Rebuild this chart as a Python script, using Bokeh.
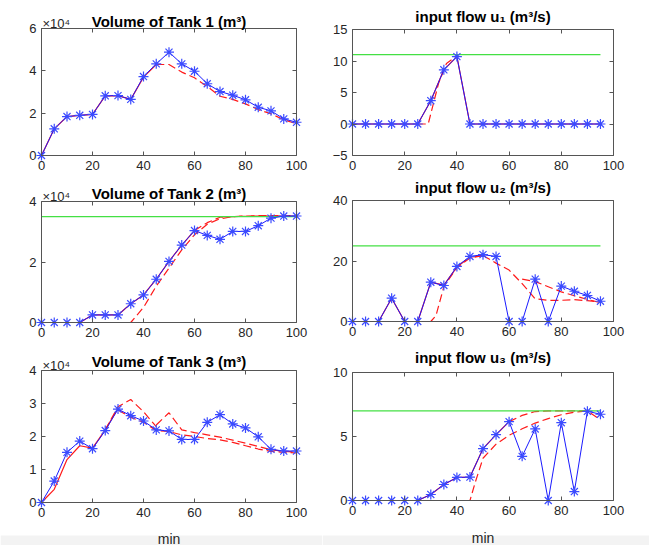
import numpy as np
from bokeh.plotting import figure
from bokeh.models import Range1d, FixedTicker, LinearAxis, Label, BoxAnnotation
from bokeh.layouts import column, row
from bokeh.embed import file_html
from bokeh.resources import INLINE

# ---------------- data ----------------
t_tank = [0, 5, 10, 15, 20, 25, 30, 35, 40, 45, 50, 55, 60, 65, 70, 75, 80, 85, 90, 95, 100]
t_flow = [0, 5, 10, 15, 20, 25, 30, 35, 40, 45, 50, 55, 60, 65, 70, 75, 80, 85, 90, 95]

# Tank volumes (m^3), measured trajectory
tank1 = [0, 12600, 18400, 19000, 19400, 28200, 28300, 26500, 37300, 43300, 48800,
         43300, 39800, 33900, 30200, 28500, 26300, 22800, 21100, 17300, 15700]
tank2 = [0, 0, 0, 0, 2500, 2500, 2500, 6200, 9100, 14300, 20200,
         25600, 30400, 28800, 27500, 30100, 30100, 32000, 34500, 35200, 35200]
tank3 = [0, 6500, 15200, 18600, 16300, 21800, 28300, 26300, 24700, 22000, 21700,
         19100, 19100, 24300, 26600, 23800, 22600, 19900, 16100, 15600, 15600]

# Input flows (m^3/s), applied
u1 = [0, 0, 0, 0, 0, 0, 3.7, 8.6, 10.7, 0, 0, 0, 0, 0, 0, 0, 0, 0, 0, 0]
u2 = [0, 0, 0, 7.7, 0, 0, 13.0, 11.9, 18.2, 21.5, 22.1, 21.5, 0, 0, 14.0, 0, 11.7, 10.0, 8.6, 6.7]
u3 = [0, 0, 0, 0, 0, 0, 0.47, 1.25, 1.8, 1.83, 4.05, 5.14, 6.16, 3.45, 5.59, 0, 6.08, 0.7, 6.97, 6.74]

# Limits (green lines)
tank2_limit = 35000
u1_limit = 11.0
u2_limit = 25.0
u3_limit = 7.0

# Predicted trajectories (red): first one solid (overlapping horizons), others dashed
tank1_pred_a_t = [0, 5, 10, 15, 20, 25, 30, 35, 40, 45]
tank1_pred_a = [0, 12600, 18400, 19000, 19400, 28200, 28300, 26500, 37000, 43000]
tank1_pred_b_t = [45, 50, 55, 60, 65, 70, 75, 80, 85, 90, 95, 100]
tank1_pred_b = [43000, 43000, 39400, 36700, 32600, 28000, 26500, 24400, 21700, 19700, 16900, 15000]

tank2_pred_a_t = [0, 5, 10, 15, 20, 25, 30, 35, 40, 45, 50, 55, 60]
tank2_pred_a = [0, 0, 0, 0, 2500, 2500, 2500, 6200, 9100, 14300, 20200, 25600, 30400]
tank2_pred_b_t = [60, 65, 70, 75, 80, 85, 90, 95, 100]
tank2_pred_b = [30400, 33000, 34800, 35000, 35100, 35200, 35200, 35200, 35200]
tank2_pred_c_t = [20, 25, 30, 35, 40, 45, 50, 55, 60, 65, 70, 75, 80, 85, 90, 95, 100]
tank2_pred_c = [0, 0, 0, 0, 5000, 12000, 18000, 24000, 29000, 32500, 34300, 35000,
                35200, 35300, 35300, 35300, 35300]

tank3_pred_a_t = [0, 5, 10, 15, 20, 25, 30]
tank3_pred_a = [0, 4000, 13000, 17200, 16500, 22000, 28500]
tank3_pred_d_t = [25, 30, 35, 40, 45]
tank3_pred_d = [22000, 29000, 31200, 27500, 23000]
tank3_pred_b_t = [45, 50, 55, 60, 65, 70, 75, 80, 85, 90, 95, 100]
tank3_pred_b = [23500, 27200, 22000, 21200, 20500, 19800, 18900, 18000, 17000, 16000, 15500, 15300]
tank3_pred_c_t = [30, 35, 40, 45, 50, 55, 60, 65, 70, 75, 80, 85, 90, 95, 100]
tank3_pred_c = [28000, 25800, 24300, 21800, 21500, 20500, 20000, 19400, 19000, 18200,
                17200, 16200, 15500, 15200, 15000]

u1_pred_a_t = t_flow
u1_pred_a = [0, 0, 0, 0, 0, 0, 3.7, 8.6, 10.7, 0, 0, 0, 0, 0, 0, 0, 0, 0, 0, 0]
u1_pred_b_t = [25, 29, 33, 36, 40]
u1_pred_b = [0, 0, 6.5, 9.6, 10.8]

u2_pred_a_t = [0, 5, 10, 15, 20, 25, 30, 35, 40, 45, 50]
u2_pred_a = [0, 0, 0, 7.7, 0, 0, 13.0, 12.0, 18.0, 21.3, 21.8]
u2_pred_b_t = [20, 25, 30, 32, 35, 40, 45, 50]
u2_pred_b = [0, 0, 0, 2.0, 11.5, 17.8, 21.0, 21.8]
u2_pred_c_t = [50, 55, 60, 65, 70, 75, 80, 85, 90, 95]
u2_pred_c = [21.8, 19.3, 17.0, 12.5, 7.5, 7.0, 7.0, 7.2, 6.9, 6.4]
u2_pred_d_t = [65, 70, 75, 80, 85, 90, 95]
u2_pred_d = [14.0, 13.2, 11.5, 9.8, 8.5, 7.3, 6.2]

u3_pred_a_t = [0, 5, 10, 15, 20, 25, 30, 35, 40, 45, 50, 55, 60]
u3_pred_a = [0, 0, 0, 0, 0, 0, 0.47, 1.25, 1.8, 1.83, 4.05, 5.14, 6.16]
u3_pred_b_t = [60, 65, 70, 75, 80, 85, 90, 95]
u3_pred_b = [6.16, 6.65, 6.95, 7.0, 7.0, 7.0, 7.0, 6.3]
u3_pred_c_t = [25, 30, 35, 40, 45, 47, 50, 55, 60, 65, 70, 75, 80, 85, 90]
u3_pred_c = [0, 0, 0, 0, 0, 1.4, 3.3, 4.4, 5.1, 5.6, 6.05, 6.4, 6.7, 6.9, 7.0]

x_ticks = [0, 20, 40, 60, 80, 100]

FONT = "Liberation Sans"
AX = "#555555"
TXT = "#262626"
RED = "#ff1a1a"
GREEN = "#44e044"
BLUE = "#1a1aff"
TICK_LEN = 4


def make_axis(ticks, loc, bounds, labels=True):
    ax = LinearAxis(ticker=FixedTicker(ticks=ticks), fixed_location=loc, bounds=bounds,
                    major_tick_in=TICK_LEN, major_tick_out=0, minor_tick_line_color=None,
                    axis_line_color=AX, major_tick_line_color=AX, axis_line_width=1,
                    major_label_text_font=FONT, major_label_text_font_size="13px",
                    major_label_standoff=5)
    ax.major_label_text_color = TXT if labels else None
    return ax


def panel(cell_w, cell_h, box, ylo, yhi, yticks, title, title_off,
          actual_t, actual_v, preds, limit=None, limit_t=None, scale=1.0,
          exp_label=False, xlabel_off=None, band_px=None):
    # box: inner axes box (left, top, right, bottom) in pixels inside the cell
    bl, bt, br, bb = box
    sx = 100.0 / (br - bl)
    sy = (yhi - ylo) / float(bb - bt)
    xr = Range1d(0 - bl * sx, 100 + (cell_w - br) * sx)
    yr = Range1d(ylo - (cell_h - bb) * sy, yhi + bt * sy)

    p = figure(width=cell_w, height=cell_h, x_range=xr, y_range=yr, min_border=0,
               output_backend="svg", toolbar_location=None)
    p.xaxis.visible = False
    p.yaxis.visible = False
    p.xgrid.visible = False
    p.ygrid.visible = False
    p.outline_line_color = None
    p.background_fill_color = "white"
    p.border_fill_color = "white"

    if band_px is not None:
        # light grey strip at the very bottom of the picture
        p.add_layout(BoxAnnotation(top=ylo - (band_px - bb) * sy, bottom=yr.start,
                                   fill_color="#f3f3f3", fill_alpha=1, line_color=None,
                                   level="underlay"))

    p.add_layout(make_axis(x_ticks, ylo, (0, 100)), "below")
    p.add_layout(make_axis(yticks, 0, (ylo, yhi)), "left")
    p.add_layout(make_axis(x_ticks, yhi, (0, 100), labels=False), "above")
    p.add_layout(make_axis(yticks, 100, (ylo, yhi), labels=False), "right")

    # predictions (red)
    for i, (pt, pv) in enumerate(preds):
        pv = np.array(pv, dtype=float) / scale
        if i == 0:
            p.line(pt, pv, color=RED, line_width=1.2)
        else:
            p.line(pt, pv, color=RED, line_width=1.2, line_dash="8 4")
    # limit (green)
    if limit is not None:
        p.line([limit_t[0], limit_t[-1]], [limit / scale, limit / scale], color=GREEN, line_width=1.3)
    # actual (blue)
    av = np.array(actual_v, dtype=float) / scale
    p.line(actual_t, av, color=BLUE, line_width=1)
    p.scatter(actual_t, av, marker="asterisk", size=10, line_color="#3b4bff", line_width=1.2)

    p.add_layout(Label(x=50, y=yhi, y_offset=title_off, text=title, text_align="center",
                       text_baseline="alphabetic", text_font=FONT, text_font_size="15px",
                       text_font_style="bold", text_color="black"))
    if exp_label:
        p.add_layout(Label(x=0, y=yhi, x_offset=1, y_offset=5, text="×10⁴", text_align="left",
                           text_baseline="alphabetic", text_font=FONT, text_font_size="13px",
                           text_color=TXT))
    if xlabel_off is not None:
        p.add_layout(Label(x=50, y=ylo, y_offset=-xlabel_off, text="min", text_align="center",
                           text_baseline="alphabetic", text_font=FONT, text_font_size="14px",
                           text_color=TXT))
    return p


LW, RW = 322, 327           # cell widths (left / right column)
H1, H2, H3 = 178, 168, 199  # cell heights (rows)

p1 = panel(LW, H1, (41, 28, 296, 155), 0, 6, [0, 2, 4, 6], "Volume of Tank 1 (m³)", 7,
           t_tank, tank1, [(tank1_pred_a_t, tank1_pred_a), (tank1_pred_b_t, tank1_pred_b)],
           scale=1e4, exp_label=True)
p2 = panel(RW, H1, (30, 29, 291, 155), -5, 15, [-5, 0, 5, 10, 15], "input flow u₁ (m³/s)", 13,
           t_flow, u1, [(u1_pred_a_t, u1_pred_a), (u1_pred_b_t, u1_pred_b)],
           limit=u1_limit, limit_t=t_flow)
p3 = panel(LW, H2, (41, 23, 296, 144), 0, 4, [0, 2, 4], "Volume of Tank 2 (m³)", 8,
           t_tank, tank2, [(tank2_pred_a_t, tank2_pred_a), (tank2_pred_b_t, tank2_pred_b),
                           (tank2_pred_c_t, tank2_pred_c)],
           limit=tank2_limit, limit_t=t_tank, scale=1e4, exp_label=True)
p4 = panel(RW, H2, (30, 22, 291, 143), 0, 40, [0, 20, 40], "input flow u₂ (m³/s)", 13,
           t_flow, u2, [(u2_pred_a_t, u2_pred_a), (u2_pred_b_t, u2_pred_b),
                        (u2_pred_c_t, u2_pred_c), (u2_pred_d_t, u2_pred_d)],
           limit=u2_limit, limit_t=t_flow)
p5 = panel(LW, H3, (41, 24, 296, 156), 0, 4, [0, 1, 2, 3, 4], "Volume of Tank 3 (m³)", 9,
           t_tank, tank3, [(tank3_pred_a_t, tank3_pred_a), (tank3_pred_d_t, tank3_pred_d),
                           (tank3_pred_b_t, tank3_pred_b), (tank3_pred_c_t, tank3_pred_c)],
           scale=1e4, exp_label=True, xlabel_off=36, band_px=189)
p6 = panel(RW, H3, (30, 26, 291, 154), 0, 10, [0, 5, 10], "input flow u₃ (m³/s)", 15,
           t_flow, u3, [(u3_pred_a_t, u3_pred_a), (u3_pred_b_t, u3_pred_b),
                        (u3_pred_c_t, u3_pred_c)],
           limit=u3_limit, limit_t=t_flow, xlabel_off=37, band_px=189)

layout = column(row(p1, p2), row(p3, p4), row(p5, p6))
open("out.html", "w").write(file_html(layout, INLINE))
